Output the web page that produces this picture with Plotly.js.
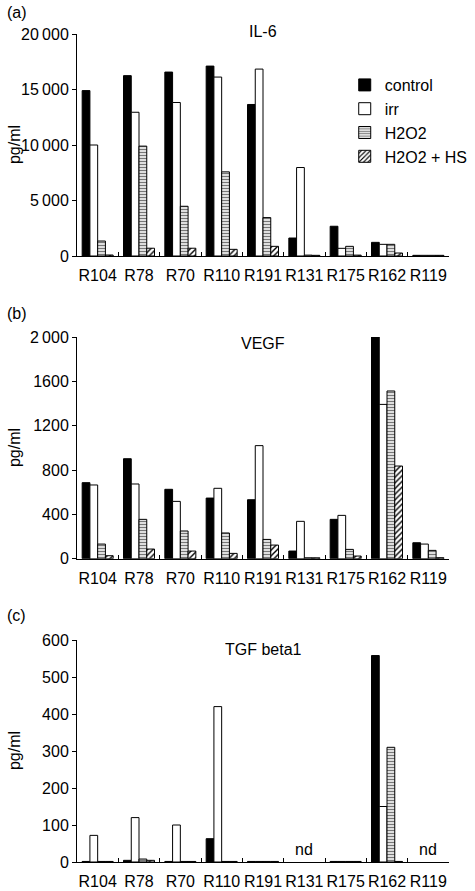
<!DOCTYPE html>
<html>
<head>
<meta charset="utf-8">
<script src="https://cdn.plot.ly/plotly-3.0.1.min.js"></script>
<style>html,body{margin:0;padding:0;background:#fff;}#chart{width:475px;height:891px;}</style>
</head>
<body>
<div id="chart"></div>
<script>
const categories = ["R104","R78","R70","R110","R191","R131","R175","R162","R119"];
const seriesNames = ["control","irr","H2O2","H2O2 + HS"];

// (a) IL-6
const il6Control = [14900,16250,16570,17110,13650,1620,2680,1230,60];
const il6Irr     = [10000,12950,13830,16120,16840,7970,690,1050,60];
const il6H2O2    = [1350,9900,4480,7580,3460,80,870,1050,60];
const il6HS      = [90,700,700,600,870,60,80,270,60];

// (b) VEGF
const vegfControl = [686,902,626,547,532,69,355,2021,144];
const vegfIrr     = [665,674,517,635,1020,337,391,1392,132];
const vegfH2O2    = [132,355,250,232,174,8,84,1513,75];
const vegfHS      = [27,87,69,48,123,8,24,836,9];

// (c) TGF beta1 (null = not determined)
const tgfControl = [1.5,4.5,1.5,63,1.5,null,1.5,558,null];
const tgfIrr     = [72,120,100,420,1.5,null,1.5,150,null];
const tgfH2O2    = [1.5,8,1.5,1.5,1.5,null,1.5,310,null];
const tgfHS      = [1.5,4.5,1.5,1.5,1.5,null,1.5,1.5,null];
const ndLabels   = ["","","","","","nd","","","nd"];

const il6TickVals = [0,5000,10000,15000,20000];
const il6TickText = ["0","5\u2009000","10\u2009000","15\u2009000","20\u2009000"];
const vegfTickVals = [0,400,800,1200,1600,2000];
const vegfTickText = ["0","400","800","1200","1600","2\u2009000"];
const tgfTickVals = [0,100,200,300,400,500,600];
const tgfTickText = ["0","100","200","300","400","500","600"];

const FONT = "Liberation Sans, Arial, sans-serif";
const styles = [
  {color:"#000000", line:{color:"#000",width:1}},
  {color:"#ffffff", line:{color:"#000",width:1}},
  {color:"#ffffff", line:{color:"#000",width:1}, pattern:{shape:"-", fgcolor:"#777", bgcolor:"#f4f4f4", size:3, solidity:0.45}},
  {color:"#ffffff", line:{color:"#000",width:1}, pattern:{shape:"/", fgcolor:"#000", bgcolor:"#fff", size:4, solidity:0.35}}
];

function makeTraces(vals, xa, ya, showLegend){
  return vals.map((v,i)=>({
    type:"bar", x:categories, y:v, name:seriesNames[i],
    xaxis:xa, yaxis:ya, marker:styles[i], showlegend:showLegend,
    legendgroup:seriesNames[i], hoverinfo:"skip"
  }));
}

const data = [].concat(
  makeTraces([il6Control,il6Irr,il6H2O2,il6HS],"x","y",true),
  makeTraces([vegfControl,vegfIrr,vegfH2O2,vegfHS],"x2","y2",false),
  makeTraces([tgfControl,tgfIrr,tgfH2O2,tgfHS],"x3","y3",false)
);

const H = 891, T = 34, B = 29;
const plotH = H - T - B;
function fy(px){ return (H - B - px)/plotH; }

function xaxis(anchor){
  return {anchor:anchor, domain:[0,1], showline:true, linecolor:"#000", linewidth:1,
    ticks:"inside", ticklen:4, tickcolor:"#000", tickson:"boundaries", tickangle:0,
    tickfont:{family:FONT,size:16,color:"#000"}, showgrid:false, zeroline:false,
    fixedrange:true, ticklabelstandoff:5, automargin:false};
}
function yaxis(anchor, dom, range, tv, tt){
  return {anchor:anchor, domain:dom, range:range, tickvals:tv, ticktext:tt,
    showline:true, linecolor:"#000", linewidth:1, ticks:"outside", ticklen:4,
    tickcolor:"#000", tickfont:{family:FONT,size:16,color:"#000"},
    showgrid:false, zeroline:false, fixedrange:true, automargin:false};
}

const annotations = [];
function ann(text, x, y, opts){
  annotations.push(Object.assign({text:text, x:x, y:y, xref:"paper", yref:"paper",
    showarrow:false, font:{family:FONT,size:16,color:"#000"}}, opts||{}));
}
const xPx = v => (v - 77)/396;
ann("(a)", xPx(0), fy(12), {xanchor:"left", yanchor:"middle"});
ann("(b)", xPx(0), fy(313), {xanchor:"left", yanchor:"middle"});
ann("(c)", xPx(0), fy(615), {xanchor:"left", yanchor:"middle"});
ann("IL-6", 0.5, fy(32), {yanchor:"middle"});
ann("VEGF", 0.5, fy(343), {yanchor:"middle"});
ann("TGF beta1", 0.5, fy(649), {yanchor:"middle"});
ann("pg/ml", xPx(10), fy(145), {textangle:-90, xanchor:"center", yanchor:"middle"});
ann("pg/ml", xPx(10), fy(448), {textangle:-90, xanchor:"center", yanchor:"middle"});
ann("pg/ml", xPx(10), fy(751), {textangle:-90, xanchor:"center", yanchor:"middle"});
ndLabels.forEach((t,i)=>{
  if(t){ annotations.push({text:t, x:categories[i], y:0, xref:"x3", yref:"y3",
    yanchor:"bottom", yshift:2, showarrow:false, font:{family:FONT,size:16,color:"#000"}}); }
});

const layout = {
  width:475, height:891,
  margin:{l:77, r:2, t:T, b:B},
  paper_bgcolor:"#fff", plot_bgcolor:"#fff",
  barmode:"group", bargap:0.25, bargroupgap:0,
  font:{family:FONT, size:16, color:"#000"},
  xaxis: xaxis("y"), xaxis2: xaxis("y2"), xaxis3: xaxis("y3"),
  yaxis: yaxis("x", [fy(256), 1], [0,20000], il6TickVals, il6TickText),
  yaxis2: yaxis("x2", [fy(558.7), fy(337)], [0,2000], vegfTickVals, vegfTickText),
  yaxis3: yaxis("x3", [0, fy(640)], [0,600], tgfTickVals, tgfTickText),
  legend:{x:xPx(362), y:fy(68), xanchor:"left", yanchor:"top", bgcolor:"rgba(0,0,0,0)",
    font:{family:FONT,size:16,color:"#000"}, itemwidth:30, tracegroupgap:0},
  annotations:annotations,
  showlegend:true
};

Plotly.newPlot("chart", data, layout, {staticPlot:true, displayModeBar:false});
</script>
</body>
</html>
